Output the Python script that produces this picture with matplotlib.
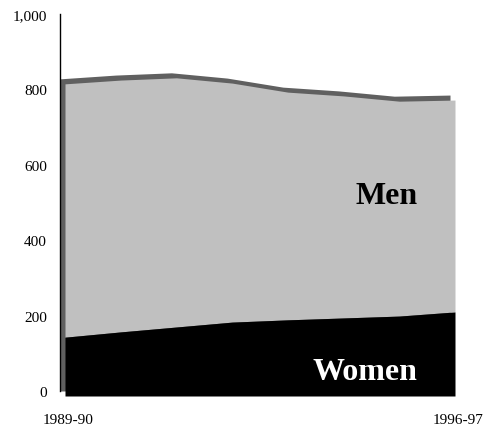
import matplotlib.pyplot as plt
import matplotlib.transforms as mtransforms
import numpy as np

years = ['1989-90', '1990-91', '1991-92', '1992-93', '1993-94', '1994-95', '1995-96', '1996-97']
women = [156, 170, 183, 196, 202, 207, 212, 223]
men = [672, 668, 661, 634, 604, 589, 570, 562]

plt.rcParams['font.family'] = ['Liberation Serif', 'DejaVu Serif']

fig = plt.figure(figsize=(4.86, 4.27), dpi=100)
ax = fig.add_axes([60 / 486, 35 / 427, 390 / 486, 377 / 427])

x = np.arange(len(years))
women = np.array(women)
total = women + np.array(men)

# fake 3D: front face is shifted right/down, back shape shows as the dark edge
depth = mtransforms.ScaledTranslation(5 / 100, -5 / 100, fig.dpi_scale_trans)
front = ax.transData + depth

ax.fill_between(x, 0, total, color='#606060', lw=0, clip_on=False)
ax.fill_between(x, women, total, color='#c0c0c0', lw=0, transform=front, clip_on=False)
ax.fill_between(x, 0, women, color='black', lw=0, transform=front, clip_on=False)

ax.set_xlim(0, 7)
ax.set_ylim(0, 1000)
for s in ['top', 'right', 'bottom']:
    ax.spines[s].set_visible(False)
ax.spines['left'].set_linewidth(1.0)

ax.set_yticks(range(0, 1001, 200))
ax.set_yticklabels(['{:,}'.format(v) for v in range(0, 1001, 200)], fontsize=11)
ax.tick_params(axis='y', length=0, pad=9.5)
ax.set_xticks([])

lab = mtransforms.blended_transform_factory(ax.transData, ax.transAxes)
lab = lab + mtransforms.ScaledTranslation(8 / 100, 0, fig.dpi_scale_trans)
ax.text(0, -0.085, years[0], transform=lab, ha='center', va='baseline', fontsize=11)
ax.text(7, -0.085, years[-1], transform=lab, ha='center', va='baseline', fontsize=11)

ax.text(6.41, 499, 'Men', ha='right', va='baseline', fontsize=23, fontweight='bold')
ax.text(6.41, 32, 'Women', ha='right', va='baseline', fontsize=23, fontweight='bold',
        color='white')

fig.savefig('out.png', dpi=100)
